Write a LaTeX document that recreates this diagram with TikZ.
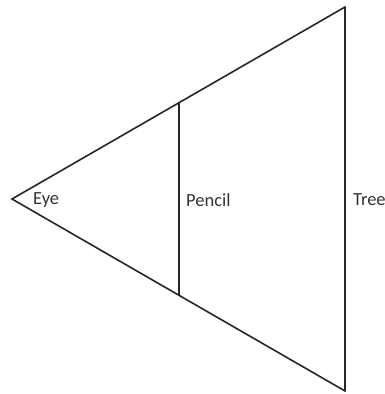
\documentclass[tikz,border=0pt]{standalone}
\usepackage{fontspec}
\setmainfont{Carlito}
\begin{document}
\begin{tikzpicture}[x=1pt,y=-1pt,
  edge/.style={draw=black!85,line width=1.6pt,line cap=round,line join=miter},
  lbl/.style={font=\fontsize{18.5}{20}\selectfont,text=black!80,inner sep=0pt,anchor=west}]
\useasboundingbox (0,0) rectangle (385,394);
\coordinate (eye) at (12,199);
\coordinate (ttop) at (345,7);
\coordinate (tbot) at (345,391);
\coordinate (ptop) at (179,102.7);
\coordinate (pbot) at (179,295.3);
\draw[edge] (ttop) -- (eye) -- (tbot);
\draw[edge] (ttop) -- (tbot);
\draw[edge] (ptop) -- (pbot);
\node[lbl] (eyel) at (33,200) {Eye};
\node[lbl] (pencil) at (186,200) {Pencil};
\node[lbl] (tree) at (353,200) {Tree};
\end{tikzpicture}
\end{document}
